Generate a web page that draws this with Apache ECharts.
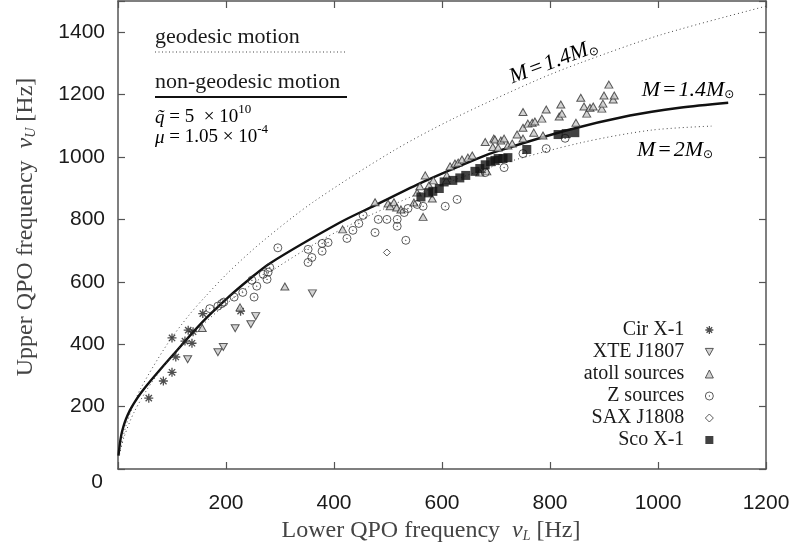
<!DOCTYPE html>
<html><head><meta charset="utf-8">
<script src="https://cdn.jsdelivr.net/npm/echarts@6/dist/echarts.min.js"></script>
<style>html,body{margin:0;padding:0;background:#fff}#c{width:796px;height:550px}</style>
</head><body><div id="c"></div>
<script>
// ---- axis ranges / ticks ----
const xMin = 0, xMax = 1200, xStep = 200;
const yMin = 0, yMax = 1500, yStep = 200;

// ---- model curves (nu_L, nu_U) ----
const geodesic14 = [[2.5,50],[4,65],[15,140],[24,185],[42,258],[90,397],[131,492],[163,555],[206,633],[268,730],[361,855],[510,1020],[621,1123],[775,1246],[855,1301],[1006,1392],[1226,1495]];
const nonGeodesic14 = [[1,43],[3,75],[6,108],[10,136],[15,161],[22,188],[30,212],[43,245],[60,282],[98,358],[154,467],[204,550],[241,605],[281,659],[411,790],[476,845],[565,920],[670,998],[707,1021],[830,1085],[948,1133],[1040,1158],[1130,1174]];
const geodesic2 = [[2.8,46],[10.4,98],[29.5,181],[62.7,278],[113.8,389],[188,511],[253,598],[357,714],[435,787],[542,872],[599,911],[704,975],[858,1046],[987,1086],[1099,1099]];

// ---- observed QPO pairs ----
const cirX1 = [[57,227],[84,282],[100,310],[107,359],[100,420],[124,410],[137,403],[130,445],[139,440],[157,498],[227,506]];
const xteJ1807 = [[129,352],[185,374],[195,391],[217,451],[246,464],[255,490],[360,563]];
const atollSources = [[156,452],[226,518],[309,585],[416,768],[476,855],[500,851],[504,842],[511,855],[516,838],[524,832],[548,854],[565,808],[554,886],[559,906],[569,941],[576,909],[582,867],[584,925],[608,925],[609,941],[615,970],[624,979],[630,982],[637,992],[648,998],[656,1005],[670,950],[683,954],[680,1048],[694,1032],[696,1059],[698,1056],[704,1030],[709,1053],[715,1059],[722,1037],[730,1043],[739,1072],[750,1059],[750,1094],[750,1144],[759,1107],[767,1110],[770,1078],[772,1114],[785,1123],[787,1069],[793,1152],[817,1130],[820,1168],[822,1139],[848,1110],[857,1190],[863,1162],[868,1139],[874,1158],[880,1162],[896,1155],[898,1171],[900,1197],[909,1232],[917,1184],[919,1197]];
const zSources = [[170,514],[185,522],[192,530],[196,535],[215,551],[231,566],[252,551],[257,586],[248,605],[269,624],[276,608],[278,631],[281,646],[296,709],[352,662],[352,704],[359,678],[378,698],[378,723],[389,726],[424,739],[435,765],[446,787],[454,813],[476,758],[482,800],[498,800],[517,800],[517,778],[533,733],[530,822],[537,835],[554,848],[565,842],[606,842],[628,864],[680,950],[715,966],[750,1011],[793,1027],[828,1060]];
const saxJ1808 = [[498,694]];
const scoX1 = [[561,872],[575,885],[583,890],[595,899],[604,920],[620,925],[633,933],[644,941],[661,954],[670,963],[680,975],[690,985],[698,989],[704,995],[713,995],[722,998],[757,1024],[815,1072],[830,1075],[846,1078]];

const seriesNames = ['Cir X-1','XTE J1807','atoll sources','Z sources','SAX J1808','Sco X-1'];

// ---- styling ----
const SERIF = '"Liberation Serif","Times New Roman",serif';
const SANS = '"Liberation Sans",Arial,sans-serif';
const symAster = 'path://M5,0L5,10M0,5L10,5M1.5,1.5L8.5,8.5M1.5,8.5L8.5,1.5';
const symDown = 'path://M0,0L10,0L5,9Z';
const symZ = 'path://M0,5A5,5 0 1,1 10,5A5,5 0 1,1 0,5ZM4.6,5A0.4,0.4 0 1,1 5.4,5A0.4,0.4 0 1,1 4.6,5Z';

const styles = {
  'Cir X-1': {symbol: symAster, size: 9, item: {color:'rgba(0,0,0,0)', borderColor:'#222', borderWidth:1.3}},
  'XTE J1807': {symbol: symDown, size: [8,7], item: {color:'#c8c8c8', borderColor:'#333', borderWidth:1}},
  'atoll sources': {symbol: 'triangle', size: [8,7], item: {color:'#c8c8c8', borderColor:'#333', borderWidth:1}},
  'Z sources': {symbol: symZ, size: 8, item: {color:'rgba(0,0,0,0)', borderColor:'#333', borderWidth:1}},
  'SAX J1808': {symbol: 'diamond', size: 7, item: {color:'#fff', borderColor:'#333', borderWidth:1}},
  'Sco X-1': {symbol: 'rect', size: 9, item: {color:'#111', borderColor:'#111', borderWidth:0}}
};
const dataByName = {'Cir X-1': cirX1, 'XTE J1807': xteJ1807, 'atoll sources': atollSources, 'Z sources': zSources, 'SAX J1808': saxJ1808, 'Sco X-1': scoX1};

const axisLineStyle = {color:'#555', width:1.5};
const tickStyle = {color:'#555', width:1.2};

const rich = {
  n: {fontFamily: SERIF, fontSize: 24, color:'#444', lineHeight: 28, verticalAlign:'bottom'},
  i: {fontFamily: SERIF, fontSize: 24, fontStyle:'italic', color:'#444', lineHeight: 28, verticalAlign:'bottom'},
  sub: {fontFamily: SERIF, fontSize: 14, fontStyle:'italic', color:'#444', lineHeight: 24, verticalAlign:'bottom'}
};
const annRich = {
  n: {fontFamily: SERIF, fontSize: 19, color:'#1a1a1a', lineHeight: 24, verticalAlign:'bottom'},
  i: {fontFamily: SERIF, fontSize: 19, fontStyle:'italic', color:'#1a1a1a', lineHeight: 24, verticalAlign:'bottom'},
  sup: {fontFamily: SERIF, fontSize: 13, color:'#1a1a1a', lineHeight: 24, verticalAlign:'top'}
};
const mRich = {
  i: {fontFamily: SERIF, fontSize: 22, fontStyle:'italic', color:'#1a1a1a', lineHeight: 26, verticalAlign:'bottom'},
  n: {fontFamily: SERIF, fontSize: 22, fontStyle:'italic', color:'#1a1a1a', lineHeight: 26, verticalAlign:'bottom'},
  s: {fontFamily: '"DejaVu Sans",sans-serif', fontSize: 12, color:'#1a1a1a', lineHeight: 22, verticalAlign:'bottom'}
};

const series = [
  {type:'line', name:'geo14', data: geodesic14, smooth:0.3, showSymbol:false, silent:true, clip:true,
   lineStyle:{color:'#444', width:1, type:[1,3]}},
  {type:'line', name:'nongeo14', data: nonGeodesic14, smooth:0.3, showSymbol:false, silent:true, clip:true,
   lineStyle:{color:'#111', width:2.4}},
  {type:'line', name:'geo2', data: geodesic2, smooth:0.3, showSymbol:false, silent:true, clip:true,
   lineStyle:{color:'#444', width:1, type:[1,3]}}
];
seriesNames.forEach(n => {
  const s = styles[n];
  series.push({type:'scatter', name:n, data: dataByName[n], symbol:s.symbol, symbolSize:s.size, itemStyle:s.item, z:3});
});

const chart = echarts.init(document.getElementById('c'), null, {renderer:'canvas'});
chart.setOption({
  animation: false,
  backgroundColor: '#fff',
  grid: {left:118, right:30, top:1, bottom:81},
  xAxis: [
    {type:'value', min:xMin, max:xMax, interval:xStep, position:'bottom',
     axisLine:{show:true, onZero:false, lineStyle:axisLineStyle},
     axisTick:{show:true, inside:true, length:7, lineStyle:tickStyle},
     axisLabel:{margin:24, fontSize:21, fontFamily:SANS, color:'#1a1a1a', formatter: v => v === 0 ? '' : String(v)},
     splitLine:{show:false},
     name:'{n|Lower QPO frequency  }{i|ν}{sub|L}{n| [Hz]}', nameLocation:'middle', nameGap:36,
     nameTextStyle:{rich: rich, padding:[0,22,0,0]}},
    {type:'value', min:xMin, max:xMax, interval:xStep, position:'top',
     axisLine:{show:true, onZero:false, lineStyle:axisLineStyle},
     axisTick:{show:true, inside:true, length:7, lineStyle:tickStyle},
     axisLabel:{show:false}, splitLine:{show:false}}
  ],
  yAxis: [
    {type:'value', min:yMin, max:yMax, interval:yStep, position:'left',
     axisLine:{show:true, onZero:false, lineStyle:axisLineStyle},
     axisTick:{show:true, inside:true, length:7, lineStyle:tickStyle},
     axisLabel:{margin:13, fontSize:21, fontFamily:SANS, color:'#1a1a1a', formatter: v => (v === 0 || v % yStep !== 0) ? '' : String(v)},
     splitLine:{show:false},
     name:'{n|Upper QPO frequency  }{i|ν}{sub|U}{n| [Hz]}', nameLocation:'middle', nameGap:80,
     nameTextStyle:{rich: rich, padding:[0,0,0,16]}},
    {type:'value', min:yMin, max:yMax, interval:yStep, position:'right',
     axisLine:{show:true, onZero:false, lineStyle:axisLineStyle},
     axisTick:{show:true, inside:true, length:7, lineStyle:tickStyle},
     axisLabel:{show:false}, splitLine:{show:false}}
  ],
  legend: {
    orient:'vertical', right:77, top:315, align:'right',
    itemWidth:8, itemHeight:8, itemGap:2,
    textStyle:{fontFamily:SERIF, fontSize:20, color:'#1a1a1a', lineHeight:20, padding:[0,16,0,0]},
    data: seriesNames.map(n => ({name:n, icon: styles[n].symbol, itemStyle: styles[n].item}))
  },
  graphic: [
    {type:'text', x:97, y:482, style:{text:'0', font:'21px '+SANS, fill:'#1a1a1a', textAlign:'center', textVerticalAlign:'middle'}},
    {type:'text', x:155, y:48, style:{text:'geodesic motion', font:'22px '+SERIF, fill:'#1a1a1a', textAlign:'left', textVerticalAlign:'bottom'}},
    {type:'line', shape:{x1:155, y1:52, x2:347, y2:52}, style:{stroke:'#444', lineWidth:1, lineDash:[1,2.5]}},
    {type:'text', x:155, y:93, style:{text:'non-geodesic motion', font:'22px '+SERIF, fill:'#1a1a1a', textAlign:'left', textVerticalAlign:'bottom'}},
    {type:'line', shape:{x1:155, y1:97, x2:347, y2:97}, style:{stroke:'#111', lineWidth:2}},
    {type:'text', x:155, y:127, style:{text:'{i|q\u0303}{n| = 5  × 10}{sup|10}', rich: annRich, textAlign:'left', textVerticalAlign:'bottom'}},
    {type:'text', x:155, y:147, style:{text:'{i|μ}{n| = 1.05 × 10}{sup|-4}', rich: annRich, textAlign:'left', textVerticalAlign:'bottom'}},
    {type:'text', x:553, y:60, rotation:0.36, style:{text:'{i|M}{n|\u200A=\u200A1.4}{i|M}{s|⊙}', rich: mRich, textAlign:'center', textVerticalAlign:'middle'}},
    {type:'text', x:688, y:88, style:{text:'{i|M}{n|\u200A=\u200A1.4}{i|M}{s|⊙}', rich: mRich, textAlign:'center', textVerticalAlign:'middle'}},
    {type:'text', x:675, y:148, style:{text:'{i|M}{n|\u200A=\u200A2}{i|M}{s|⊙}', rich: mRich, textAlign:'center', textVerticalAlign:'middle'}}
  ],
  series: series
});
</script></body></html>
